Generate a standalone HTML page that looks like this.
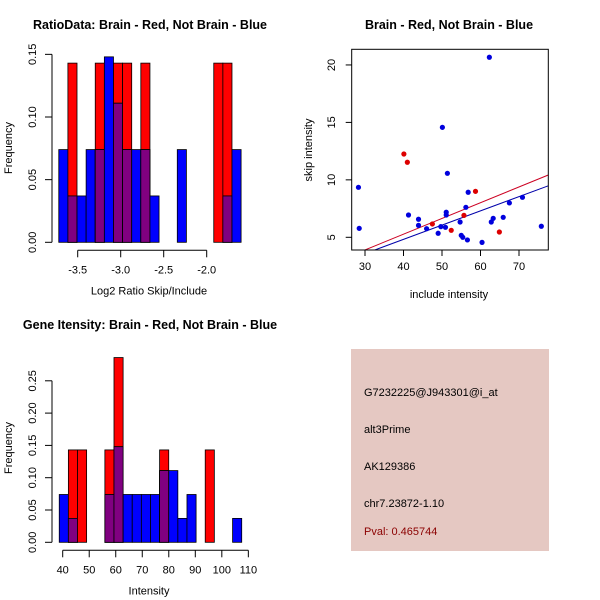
<!DOCTYPE html>
<html><head><meta charset="utf-8"><style>
body{margin:0;background:#fff;}
svg{display:block;font-family:"Liberation Sans",sans-serif;}
</style></head><body>
<svg id="c" width="600" height="600" viewBox="0 0 600 600">
<rect width="600" height="600" fill="#fff"/>
<g id="p1"></g>
<g id="p2"></g>
<g id="p3"></g>
<g>
<rect x="351" y="349" width="198" height="202" fill="#e5c8c2"/>
<text x="364" y="396" font-size="11" fill="#000">G7232225@J943301@i_at</text>
<text x="364" y="433" font-size="11" fill="#000">alt3Prime</text>
<text x="364" y="470" font-size="11" fill="#000">AK129386</text>
<text x="364" y="507" font-size="11" fill="#000">chr7.23872-1.10</text>
<text x="364" y="535" font-size="11" fill="#8b0000">Pval: 0.465744</text>
</g>
</svg>
<script>
// Ratio histogram data (20 bins)
const ratioBinStart = -3.72;
const ratioBinWidth = 0.106;
const ratioRed  = [0,0.143,0,0,0.143,0,0.143,0.143,0,0.143,0,0,0,0,0,0,0,0.143,0.143,0];
const ratioBlue = [0.074,0.037,0.037,0.074,0.074,0.148,0.111,0.074,0.074,0.074,0.037,0,0,0.074,0,0,0,0,0.037,0.074];
const ratioXTicks = [-3.5,-3.0,-2.5,-2.0];
const ratioXLabels = ["-3.5","-3.0","-2.5","-2.0"];
const ratioYTicks = [0,0.05,0.10,0.15];
const ratioYLabels = ["0.00","0.05","0.10","0.15"];
// Gene intensity histogram data
const geneBinStart = 38.7;
const geneBinWidth = 3.44;
const geneRed  = [0,0.143,0.143,0,0,0.143,0.286,0,0,0,0,0.143,0,0,0,0,0.143,0,0,0];
const geneBlue = [0.074,0.037,0,0,0,0.074,0.148,0.074,0.074,0.074,0.074,0.111,0.111,0.037,0.074,0,0,0,0,0.037];
const geneXTicks = [40,50,60,70,80,90,100,110];
const geneYTicks = [0,0.05,0.10,0.15,0.20,0.25];
const geneYLabels = ["0.00","0.05","0.10","0.15","0.20","0.25"];
// Scatter data
const blueX = [28.3,28.5,41.3,43.9,43.9,46.0,49.0,49.7,50.9,50.1,51.1,51.1,51.4,54.7,55.0,55.4,56.6,56.2,56.8,60.4,62.3,62.8,63.3,65.9,67.5,70.9,75.8];
const blueY = [9.35,5.78,6.94,6.57,6.04,5.75,5.35,5.93,5.87,14.57,7.18,6.94,10.57,6.33,5.17,5.0,4.77,7.61,8.92,4.56,20.67,6.33,6.65,6.74,7.99,8.48,5.96];
const redX = [40.1,41.0,47.5,52.4,55.7,58.7,64.9];
const redY = [12.25,11.53,6.16,5.61,6.91,9.0,5.46];
const redFit = [-0.21,0.137];
const blueFit = [-0.14,0.124];
const scatterXTicks = [30,40,50,60,70];
const scatterYTicks = [5,10,15,20];

const NS="http://www.w3.org/2000/svg";
function mk(parent,tag,attrs,text){const e=document.createElementNS(NS,tag);for(const k in attrs)e.setAttribute(k,attrs[k]);if(text!==undefined)e.textContent=text;parent.appendChild(e);return e;}

function hist(g,o){
  const sx=v=>o.x0+(v-o.xv0)*o.kx, sy=v=>o.y0-v*o.ky;
  for(let i=0;i<o.red.length;i++){
    const a=o.binStart+i*o.binW,b=a+o.binW;
    const x=sx(a),w=sx(b)-sx(a);
    const r=o.red[i],bl=o.blue[i];
    if(r>0){const e=mk(g,'rect',{x:x,y:sy(r),width:w,height:sy(0)-sy(r),fill:'#ff0000',stroke:'#000','stroke-width':0.8});
      
      }
    if(bl>0){const e=mk(g,'rect',{x:x,y:sy(bl),width:w,height:sy(0)-sy(bl),fill:'#0000ff',stroke:'#000','stroke-width':0.8});
      
      }
    if(r>0&&bl>0){const m=Math.min(r,bl);const e=mk(g,'rect',{x:x,y:sy(m),width:w,height:sy(0)-sy(m),fill:'#800080',stroke:'#000','stroke-width':0.8});
      
      }
  }
  // y axis
  const yt=o.yTicks;
  mk(g,'line',{x1:52,y1:sy(yt[0]),x2:52,y2:sy(yt[yt.length-1]),stroke:'#000'});
  yt.forEach((t,i)=>{mk(g,'line',{x1:45,y1:sy(t),x2:52,y2:sy(t),stroke:'#000'});
    const e=mk(g,'text',{x:0,y:0,'font-size':11,'text-anchor':'middle',transform:`translate(36,${sy(t)}) rotate(-90)`},o.yLabels[i]);
    
    });
  const xt=o.xTicks, ay=o.y0+8;
  mk(g,'line',{x1:sx(xt[0]),y1:ay,x2:sx(xt[xt.length-1]),y2:ay,stroke:'#000'});
  xt.forEach((t,i)=>{mk(g,'line',{x1:sx(t),y1:ay,x2:sx(t),y2:ay+7,stroke:'#000'});
    const e=mk(g,'text',{x:sx(t),y:ay+23,'font-size':11,'text-anchor':'middle'},o.xLabels[i]);
    
    });
  let e=mk(g,'text',{x:150,y:o.titleY,'font-size':12.5,'font-weight':'bold','text-anchor':'middle'},o.title);
  
  
  e=mk(g,'text',{x:149,y:o.y0+52,'font-size':11,'text-anchor':'middle'},o.xTitle);
  
  
  e=mk(g,'text',{x:0,y:0,'font-size':11,'text-anchor':'middle',transform:`translate(12,${o.yMid}) rotate(-90)`},'Frequency');
  
  
}

hist(document.getElementById('p1'),{x0:77.7,xv0:-3.5,kx:86,y0:242.3,ky:1253,binStart:ratioBinStart,binW:ratioBinWidth,
  red:ratioRed,blue:ratioBlue,xTicks:ratioXTicks,xLabels:ratioXLabels,yTicks:ratioYTicks,yLabels:ratioYLabels,
  title:'RatioData: Brain - Red, Not Brain - Blue',titleY:29,xTitle:'Log2 Ratio Skip/Include',yMid:148});
hist(document.getElementById('p3'),{x0:62.7,xv0:40,kx:2.652,y0:542.3,ky:646,binStart:geneBinStart,binW:geneBinWidth,
  red:geneRed,blue:geneBlue,xTicks:geneXTicks,xLabels:geneXTicks.map(String),yTicks:geneYTicks,yLabels:geneYLabels,
  title:'Gene Itensity: Brain - Red, Not Brain - Blue',titleY:329,xTitle:'Intensity',yMid:448});

// scatter
(function(){
  const g=document.getElementById('p2');
  const L=351.7,R=548.3,T=49.3,B=250;
  const sx=v=>365+(v-30)*3.85, sy=v=>237.3-(v-5)*11.49;
  mk(g,'defs',{}).innerHTML='<clipPath id="clip2"><rect x="'+L+'" y="'+T+'" width="'+(R-L)+'" height="'+(B-T)+'"/></clipPath>';
  const xa=sx.invert, xmin=30+(L-365)/3.85, xmax=30+(R-365)/3.85;
  [[redFit,'#cc0022','red-fit-line'],[blueFit,'#0000aa','blue-fit-line']].forEach(([f,c,n])=>{
    const e=mk(g,'line',{x1:sx(xmin),y1:sy(f[0]+f[1]*xmin),x2:sx(xmax),y2:sy(f[0]+f[1]*xmax),stroke:c,'stroke-width':1,'clip-path':'url(#clip2)'});
    
    });
  blueX.forEach((x,i)=>{const e=mk(g,'circle',{cx:sx(x),cy:sy(blueY[i]),r:2.6,fill:'#0000dd'});
    
    });
  redX.forEach((x,i)=>{const e=mk(g,'circle',{cx:sx(x),cy:sy(redY[i]),r:2.6,fill:'#dd0000'});
    
    });
  mk(g,'rect',{x:L,y:T,width:R-L,height:B-T,fill:'none',stroke:'#000'});
  scatterXTicks.forEach(t=>{mk(g,'line',{x1:sx(t),y1:B,x2:sx(t),y2:B+6,stroke:'#000'});
    const e=mk(g,'text',{x:sx(t),y:B+20,'font-size':11,'text-anchor':'middle'},String(t));
    
    });
  scatterYTicks.forEach(t=>{mk(g,'line',{x1:L-6,y1:sy(t),x2:L,y2:sy(t),stroke:'#000'});
    const e=mk(g,'text',{x:0,y:0,'font-size':11,'text-anchor':'middle',transform:`translate(335,${sy(t)}) rotate(-90)`},String(t));
    
    });
  let e=mk(g,'text',{x:449,y:29,'font-size':12.5,'font-weight':'bold','text-anchor':'middle'},'Brain - Red, Not Brain - Blue');
  
  
  e=mk(g,'text',{x:449,y:298,'font-size':11,'text-anchor':'middle'},'include intensity');
  
  
  e=mk(g,'text',{x:0,y:0,'font-size':11,'text-anchor':'middle',transform:'translate(312,150) rotate(-90)'},'skip intensity');
  
  
})();
</script>
</body></html>
